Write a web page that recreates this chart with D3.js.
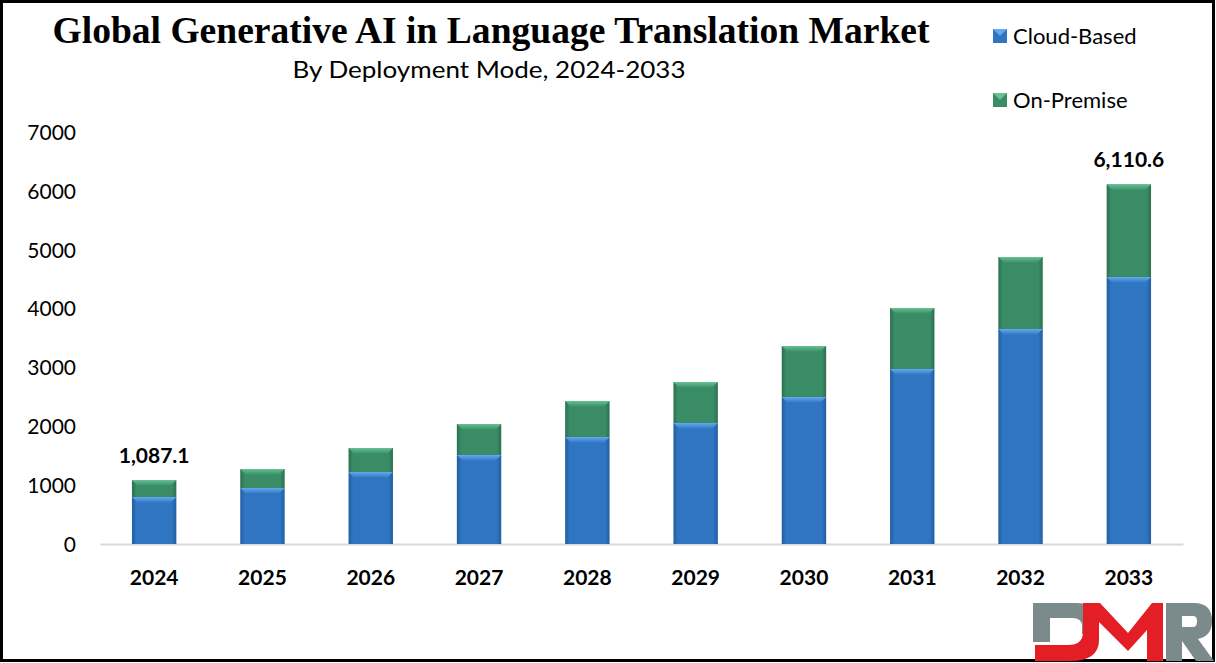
<!DOCTYPE html>
<html>
<head>
<meta charset="utf-8">
<script src="https://cdn.jsdelivr.net/npm/d3@7"></script>
<style>
  html, body { margin: 0; padding: 0; background: #fff; }
  svg { display: block; }
</style>
</head>
<body>
<svg id="chart" width="1216" height="663"></svg>
<script>
// ---- data ----
const years = ["2024","2025","2026","2027","2028","2029","2030","2031","2032","2033"];
const cloudBased = [798, 951, 1223, 1512, 1818, 2056, 2497, 2973, 3653, 4536];
const onPremise  = [289.1, 323, 408, 527, 612, 696, 867, 1037, 1223, 1574.6];
const seriesNames = ["Cloud-Based", "On-Premise"];
const yTicks = [0, 1000, 2000, 3000, 4000, 5000, 6000, 7000];
const totalLabels = [{year: "2024", text: "1,087.1"}, {year: "2033", text: "6,110.6"}];

// ---- setup ----
const svg = d3.select("#chart");
const W = 1216, H = 663;
svg.append("rect").attr("width", W).attr("height", H).attr("fill", "#fff");

const x = d3.scaleBand().domain(years).range([100, 1183]).paddingInner(0.59).paddingOuter(0.295);
const y = d3.scaleLinear().domain([0, 7000]).range([544, 132]);

const colors = {
  "Cloud-Based": {main: "#2f75c2", light: "#64a9ee", dark: "#215d9f"},
  "On-Premise":  {main: "#3a8c66", light: "#66c193", dark: "#2b6f4f"}
};

const defs = svg.append("defs");
seriesNames.forEach((s, i) => {
  const g = defs.append("linearGradient").attr("id", "grad" + i).attr("x1", "0").attr("x2", "1").attr("y1", "0").attr("y2", "0");
  g.append("stop").attr("offset", "0").attr("stop-color", colors[s].dark);
  g.append("stop").attr("offset", "0.1").attr("stop-color", colors[s].main);
  g.append("stop").attr("offset", "0.9").attr("stop-color", colors[s].main);
  g.append("stop").attr("offset", "1").attr("stop-color", colors[s].dark);
  const t = defs.append("linearGradient").attr("id", "top" + i).attr("x1", "0").attr("x2", "0").attr("y1", "0").attr("y2", "1");
  t.append("stop").attr("offset", "0").attr("stop-color", colors[s].light);
  t.append("stop").attr("offset", "1").attr("stop-color", colors[s].main);
});

// stacked data
const table = years.map((yr, i) => ({year: yr, "Cloud-Based": cloudBased[i], "On-Premise": onPremise[i]}));
const stack = d3.stack().keys(seriesNames)(table);

// axis line
const xAxis = d3.axisBottom(x).tickSize(0).tickPadding(0);
const xg = svg.append("g").attr("transform", `translate(0,${y(0)})`).call(xAxis);
xg.select(".domain").attr("stroke", "#d9d9d9").attr("stroke-width", 2);
xg.selectAll("text").remove();

// bars
const bev = 6;
stack.forEach((layer, li) => {
  const s = seriesNames[li];
  const g = svg.append("g");
  layer.forEach((d, i) => {
    const yr = years[i];
    const x0 = x(yr), bw = x.bandwidth();
    const yt = y(d[1]), yb = y(d[0]);
    g.append("rect").attr("x", x0).attr("y", yt).attr("width", bw).attr("height", yb - yt)
      .attr("fill", `url(#grad${li})`);
    // top bevel
    g.append("path")
      .attr("d", `M${x0},${yt} L${x0 + bw},${yt} L${x0 + bw - bev},${yt + bev} L${x0 + bev},${yt + bev} Z`)
      .attr("fill", `url(#top${li})`);
  });
});

// y axis labels
const yAxis = d3.axisLeft(y).tickValues(yTicks).tickSize(0).tickPadding(0).tickFormat(d3.format("d"));
const yg = svg.append("g").attr("transform", "translate(76,0)").call(yAxis);
yg.select(".domain").remove();
yg.selectAll("text").attr("font-family", "Lato, 'Open Sans', sans-serif").attr("font-size", 21).attr("fill", "#000").attr("dy", "0.35em");

// x labels
const xl = svg.append("g").attr("transform", `translate(0,${y(0)})`).call(d3.axisBottom(x).tickSize(0).tickPadding(26));
xl.select(".domain").remove();
xl.selectAll("text").attr("font-family", "Lato, 'Open Sans', sans-serif").attr("font-weight", "bold").attr("font-size", 21).attr("fill", "#000");

// total labels
const totals = years.map((yr, i) => cloudBased[i] + onPremise[i]);
svg.append("g").selectAll("text").data(totalLabels).join("text")
  .attr("x", d => x(d.year) + x.bandwidth() / 2)
  .attr("y", d => y(totals[years.indexOf(d.year)]) - 17)
  .attr("text-anchor", "middle")
  .attr("font-family", "Lato, 'Open Sans', sans-serif").attr("font-weight", "bold").attr("font-size", 21)
  .attr("fill", "#000")
  .text(d => d.text);

// title
svg.append("text").attr("x", 491).attr("y", 43).attr("text-anchor", "middle")
  .attr("font-family", "'Liberation Serif', 'Times New Roman', serif").attr("font-weight", "bold").attr("font-size", 38)
  .attr("textLength", 877).attr("lengthAdjust", "spacingAndGlyphs")
  .attr("fill", "#000").text("Global Generative AI in Language Translation Market");
svg.append("text").attr("x", 489).attr("y", 78).attr("text-anchor", "middle")
  .attr("font-family", "Lato, 'Open Sans', sans-serif").attr("font-size", 24)
  .attr("textLength", 393).attr("lengthAdjust", "spacingAndGlyphs")
  .attr("fill", "#000").text("By Deployment Mode, 2024-2033");

// legend
const leg = svg.append("g");
seriesNames.forEach((s, i) => {
  const ly = 36 + i * 64;
  leg.append("rect").attr("x", 993).attr("y", ly - 7).attr("width", 14).attr("height", 14).attr("fill", colors[s].main);
  leg.append("path").attr("d", `M993,${ly - 7} L1007,${ly - 7} L1000,${ly} Z`).attr("fill", colors[s].light);
  leg.append("text").attr("x", 1013).attr("y", ly).attr("dy", "0.35em")
    .attr("font-family", "Lato, 'Open Sans', sans-serif").attr("font-size", 22).attr("fill", "#000").text(s);
});

// frame
svg.append("rect").attr("x", 1.5).attr("y", 1.5).attr("width", 1212).attr("height", 659)
  .attr("fill", "none").attr("stroke", "#000").attr("stroke-width", 3);

// logo
const logo = svg.append("g");
logo.append("path").attr("fill", "#7b8a8b")
  .attr("d", "M1033,603 H1076 Q1098,603 1098,622 V634 H1082 V626 Q1082,618 1072,618 H1050 V642 H1033 Z");
logo.append("path").attr("fill", "#e31e24")
  .attr("d", "M1035,645 H1068 Q1083,645 1083,632 V603 H1100 L1128,633 L1152,603 H1163 V661 H1147 V630 L1128,651 L1099,622 V640 Q1099,661 1070,661 H1035 Z");
logo.append("path").attr("fill", "#7b8a8b").attr("fill-rule", "evenodd")
  .attr("d", "M1166,603 H1194 Q1212,603 1212,621 Q1212,636 1198,639 L1214,661 H1196 L1182,641 V661 H1166 Z M1182,616 H1193 Q1197,616 1197,621 Q1197,627 1193,627 H1182 Z");
</script>
</body>
</html>
